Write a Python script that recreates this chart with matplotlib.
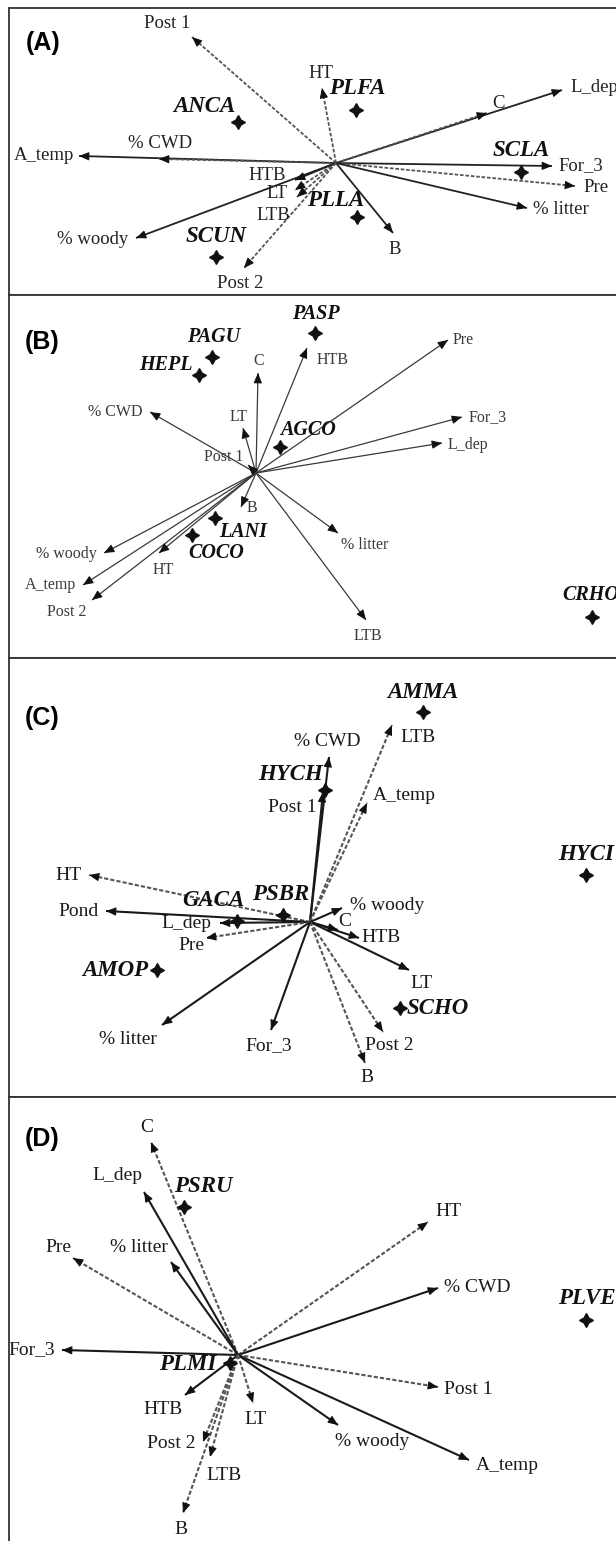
import matplotlib
matplotlib.use('Agg')
import matplotlib.pyplot as plt
import numpy as np

# ---- data: biplot scores (env. vectors + species), one set per panel ----
a_vars = ['Post 1', 'HT', 'L_dep', 'C', 'A_temp', '% CWD', 'For_3', 'Pre',
          '% litter', 'B', 'HTB', 'LT', 'LTB', '% woody', 'Post 2']
a_x = [-1.44, -0.14, 2.26, 1.51, -2.57, -1.77, 2.16, 2.39, 1.91, 0.57, -0.41, -0.41, -0.39, -2.00, -0.92]
a_y = [1.26, 0.75, 0.73, 0.50, 0.07, 0.04, -0.03, -0.23, -0.45, -0.70, -0.17, -0.27, -0.34, -0.75, -1.05]
a_spp = ['ANCA', 'PLFA', 'SCLA', 'PLLA', 'SCUN']
a_sx = [-0.98, 0.20, 1.85, 0.21, -1.20]
a_sy = [0.41, 0.53, -0.09, -0.54, -0.94]

b_vars = ['Pre', 'For_3', 'L_dep', 'C', 'HTB', 'LT', '% CWD', 'Post 1', 'B',
          '% litter', 'LTB', 'HT', '% woody', 'A_temp', 'Post 2']
b_x = [1.92, 2.06, 1.86, 0.02, 0.51, -0.13, -1.06, -0.08, -0.15, 0.82, 1.10, -0.97, -1.52, -1.73, -1.64]
b_y = [1.33, 0.56, 0.30, 1.00, 1.25, 0.45, 0.61, 0.08, -0.34, -0.60, -1.47, -0.80, -0.80, -1.12, -1.27]
b_spp = ['PASP', 'PAGU', 'HEPL', 'AGCO', 'LANI', 'COCO', 'CRHO']
b_sx = [0.59, -0.44, -0.57, 0.24, -0.41, -0.64, 3.36]
b_sy = [1.40, 1.16, 0.98, 0.26, -0.45, -0.62, -1.44]

c_vars = ['% CWD', 'Post 1', 'LTB', 'A_temp', 'HT', 'Pond', 'L_dep', 'Pre',
          '% woody', 'C', 'HTB', 'LT', 'Post 2', 'B', 'For_3', '% litter']
c_x = [0.19, 0.13, 0.82, 0.57, -2.21, -2.04, -0.90, -1.04, 0.32, 0.28, 0.49, 0.99, 0.73, 0.55, -0.39, -1.48]
c_y = [1.65, 1.30, 1.97, 1.19, 0.47, 0.11, -0.01, -0.16, 0.14, -0.08, -0.16, -0.48, -1.10, -1.41, -1.08, -1.03]
c_spp = ['AMMA', 'HYCH', 'HYCI', 'GACA', 'PSBR', 'AMOP', 'SCHO']
c_sx = [1.13, 0.15, 2.76, -0.73, -0.27, -1.53, 0.90]
c_sy = [2.10, 1.32, 0.47, 0.01, 0.07, -0.48, -0.86]

d_vars = ['C', 'L_dep', 'Pre', '% litter', 'HT', '% CWD', 'For_3', 'Post 1',
          'A_temp', '% woody', 'HTB', 'LT', 'Post 2', 'LTB', 'B']
d_x = [-0.87, -0.94, -1.65, -0.67, 1.90, 2.00, -1.76, 2.00, 2.31, 1.00, -0.53, 0.15, -0.35, -0.28, -0.55]
d_y = [2.13, 1.63, 0.97, 0.93, 1.33, 0.67, 0.05, -0.32, -1.05, -0.70, -0.40, -0.48, -0.87, -1.02, -1.58]
d_spp = ['PSRU', 'PLMI', 'PLVE']
d_sx = [-0.54, -0.08, 3.48]
d_sy = [1.48, -0.08, 0.35]

# ---- layout / style ----
W, H = 616, 1541
fig = plt.figure(figsize=(W / 100, H / 100), dpi=100)
fig.patch.set_facecolor('white')

SERIF = 'Liberation Serif'

# label offsets in pixels (dx, dy, ha)
a_lab = {'Post 1': (-25, 14, 'center'), 'HT': (-1, 15, 'center'), 'L_dep': (8, 2, 'left'),
         'C': (11, 10, 'center'), 'A_temp': (-5, 1, 'right'), '% CWD': (1, 16, 'center'),
         'For_3': (6, 0, 'left'), 'Pre': (8, -1, 'left'), '% litter': (6, -2, 'left'),
         'B': (2, -16, 'center'), 'HTB': (-28, 5, 'center'), 'LT': (-18, -3, 'center'),
         'LTB': (-24, -18, 'center'), '% woody': (-8, -1, 'right'), 'Post 2': (-4, -15, 'center')}
a_slab = {'ANCA': (-34, 15, 'center'), 'PLFA': (1, 21, 'center'), 'SCLA': (0, 21, 'center'),
          'PLLA': (-21, 16, 'center'), 'SCUN': (0, 20, 'center')}

b_lab = {'Pre': (5, 0, 'left'), 'For_3': (7, 0, 'left'), 'L_dep': (6, -2, 'left'),
         'C': (1, 12, 'center'), 'HTB': (26, -12, 'center'), 'LT': (-4, 11, 'center'),
         '% CWD': (-7, 0, 'right'), 'Post 1': (-24, 8, 'center'), 'B': (11, -1, 'center'),
         '% litter': (27, -12, 'center'), 'LTB': (2, -16, 'center'), 'HT': (4, -17, 'center'),
         '% woody': (-7, -1, 'right'), 'A_temp': (-7, 0, 'right'), 'Post 2': (-25, -12, 'center')}
b_slab = {'PASP': (1, 19, 'center'), 'PAGU': (2, 20, 'center'), 'HEPL': (-33, 10, 'center'),
          'AGCO': (28, 17, 'center'), 'LANI': (28, -14, 'center'), 'COCO': (24, -18, 'center'),
          'CRHO': (-30, 22, 'left')}

c_lab = {'% CWD': (-2, 15, 'center'), 'Post 1': (-31, -15, 'center'), 'LTB': (26, -12, 'center'),
         'A_temp': (37, 8, 'center'), 'HT': (-7, 0, 'right'), 'Pond': (-7, -1, 'right'),
         'L_dep': (-34, -1, 'center'), 'Pre': (-15, -7, 'center'), '% woody': (45, 3, 'center'),
         'C': (7, 8, 'center'), 'HTB': (22, 0, 'center'), 'LT': (12, -13, 'center'),
         'Post 2': (6, -13, 'center'), 'B': (2, -15, 'center'), 'For_3': (-2, -16, 'center'),
         '% litter': (-34, -15, 'center')}
c_slab = {'AMMA': (0, 20, 'center'), 'HYCH': (-34, 15, 'center'), 'HYCI': (-28, 20, 'left'),
          'GACA': (-24, 20, 'center'), 'PSBR': (-2, 20, 'center'), 'AMOP': (-9, 0, 'right'),
          'SCHO': (7, -1, 'left')}

d_lab = {'C': (-4, 15, 'center'), 'L_dep': (-27, 17, 'center'), 'Pre': (-15, 11, 'center'),
         '% litter': (-32, 14, 'center'), 'HT': (7, 10, 'left'), '% CWD': (6, 1, 'left'),
         'For_3': (-7, 0, 'right'), 'Post 1': (6, -3, 'left'), 'A_temp': (7, -5, 'left'),
         '% woody': (34, -17, 'center'), 'HTB': (-22, -15, 'center'), 'LT': (2, -17, 'center'),
         'Post 2': (-32, -1, 'center'), 'LTB': (14, -18, 'center'), 'B': (-2, -17, 'center')}
d_slab = {'PSRU': (19, 21, 'center'), 'PLMI': (-14, -1, 'right'), 'PLVE': (-28, 22, 'left')}

panels = [
    # letter, top, bottom, origin(px), vars, x, y, spp, sx, sy, labels, slabels, dashed, sizes, lw, color, letter pos
    ('(A)', 8, 295, (336, 163), a_vars, a_x, a_y, a_spp, a_sx, a_sy, a_lab, a_slab,
     {'Post 1', 'HT', 'C', '% CWD', 'Pre', 'LT', 'LTB', 'Post 2'}, (13.5, 16.5), 1.3, '#222222', (43, 43)),
    ('(B)', 295, 658, (256, 473), b_vars, b_x, b_y, b_spp, b_sx, b_sy, b_lab, b_slab,
     set(), (11.5, 14.5), 0.9, '#3a3a3a', (42, 342)),
    ('(C)', 658, 1097, (310, 922), c_vars, c_x, c_y, c_spp, c_sx, c_sy, c_lab, c_slab,
     {'HT', 'LTB', 'A_temp', 'Pre', 'Post 2', 'B'}, (14, 16.5), 1.5, '#1a1a1a', (42, 718)),
    ('(D)', 1097, 1550, (238, 1355), d_vars, d_x, d_y, d_spp, d_sx, d_sy, d_lab, d_slab,
     {'C', 'Pre', 'HT', 'Post 1', 'LT', 'Post 2', 'LTB', 'B'}, (14, 16.5), 1.5, '#1a1a1a', (42, 1139)),
]

for (letter, top, bottom, (ox, oy), names, xs, ys, spp, sx, sy, lab, slab,
     dashed, (fs, sfs), lw, col, lpos) in panels:
    ax = fig.add_axes([9 / W, 1 - bottom / H, (660 - 9) / W, (bottom - top) / H])
    ax.set_xlim((9 - ox) / 100, (660 - ox) / 100)
    ax.set_ylim((oy - bottom) / 100, (oy - top) / 100)
    ax.set_xticks([])
    ax.set_yticks([])
    for s in ax.spines.values():
        s.set_color('#333333')
        s.set_linewidth(1.3)

    for name, x, y in zip(names, xs, ys):
        ls = (0, (2.0, 1.0)) if name in dashed else '-'
        lc = '#555555' if name in dashed else col
        ax.plot([0, x], [0, y], ls=ls, color=lc, lw=lw, solid_capstyle='butt')
        v = np.array([x, y])
        u = v / np.hypot(x, y)
        ax.annotate('', xy=(x, y), xytext=tuple(v - u * 0.06),
                    arrowprops=dict(arrowstyle='-|>,head_length=0.6,head_width=0.25',
                                    color='#111111', lw=0.8, shrinkA=0, shrinkB=0))
        dx, dy, ha = lab[name]
        ax.annotate(name, xy=(x, y), xytext=(dx, dy), textcoords='offset pixels',
                    ha=ha, va='center', fontsize=fs, family=SERIF, color=col,
                    annotation_clip=False)

    ax.plot(sx, sy, ls='none', marker=(4, 1, 0), ms=10, color='#111111', clip_on=False)
    for name, x, y in zip(spp, sx, sy):
        dx, dy, ha = slab[name]
        ax.annotate(name, xy=(x, y), xytext=(dx, dy), textcoords='offset pixels',
                    ha=ha, va='center', fontsize=sfs, family=SERIF,
                    fontweight='bold', fontstyle='italic', color='#111111',
                    annotation_clip=False)

    fig.text(lpos[0] / W, 1 - lpos[1] / H, letter, ha='center', va='center',
             fontsize=18, fontweight='bold', family='Liberation Sans')

fig.savefig('out.png', dpi=100, facecolor='white')
